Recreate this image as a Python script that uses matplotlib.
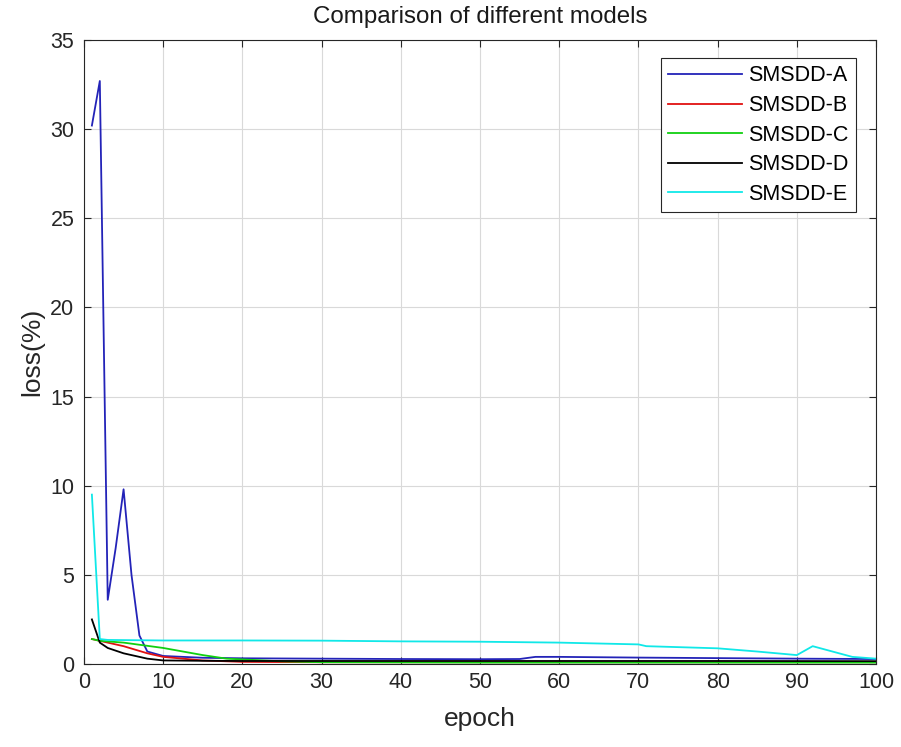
import matplotlib.pyplot as plt

plt.rcParams['font.family'] = ['Liberation Sans', 'DejaVu Sans']

# ---------- dati ---------- #
ep_a = [1, 2, 3, 4, 5, 6, 7, 8, 10, 15, 20, 30, 40, 50, 55, 57, 60, 70, 80, 90, 100]
loss_a = [30.2, 32.7, 3.6, 6.5, 9.8, 5.0, 1.6, 0.7, 0.45, 0.35, 0.32, 0.3, 0.28, 0.27, 0.28, 0.4, 0.4, 0.36, 0.33, 0.3, 0.28]

ep_b = [1, 2, 5, 8, 10, 15, 20, 30, 50, 70, 90, 100]
loss_b = [1.4, 1.3, 1.0, 0.6, 0.4, 0.2, 0.12, 0.1, 0.1, 0.1, 0.1, 0.1]

ep_c = [1, 2, 5, 10, 15, 18, 25, 30, 50, 70, 90, 100]
loss_c = [1.4, 1.3, 1.2, 0.9, 0.5, 0.3, 0.15, 0.1, 0.08, 0.08, 0.08, 0.08]

ep_d = [1, 2, 3, 5, 8, 10, 15, 20, 40, 60, 80, 100]
loss_d = [2.5, 1.2, 0.9, 0.6, 0.3, 0.2, 0.18, 0.17, 0.17, 0.17, 0.17, 0.16]

ep_e = [1, 2, 3, 10, 20, 30, 40, 50, 60, 70, 71, 80, 85, 90, 92, 97, 100]
loss_e = [9.5, 1.4, 1.35, 1.32, 1.32, 1.31, 1.27, 1.25, 1.2, 1.1, 1.0, 0.88, 0.7, 0.5, 1.0, 0.4, 0.3]

labels = ['SMSDD-A', 'SMSDD-B', 'SMSDD-C', 'SMSDD-D', 'SMSDD-E']
colors = ['#2323b8', '#e01010', '#10d010', '#000000', '#10e8e8']

# ---------- grafico ---------- #
fig = plt.figure(figsize=(9.01, 7.47), dpi=100)
ax = fig.add_axes([0.0932, 0.1111, 0.8791, 0.8354])

series = [(ep_a, loss_a), (ep_b, loss_b), (ep_c, loss_c), (ep_d, loss_d), (ep_e, loss_e)]
for (x, y), lab, col in zip(series, labels, colors):
    ax.plot(x, y, color=col, label=lab, linewidth=1.3)

ax.set_xlim(0, 100)
ax.set_ylim(0, 35)
ax.set_xticks(range(0, 101, 10))
ax.set_yticks(range(0, 36, 5))
ax.grid(True, color='#d9d9d9', linewidth=0.8)
ax.tick_params(direction='in', top=True, right=True, labelsize=15.5, length=5,
               labelcolor='#262626', color='#262626')
ax.tick_params(axis='y', pad=7)
ax.tick_params(axis='x', pad=6)
for s in ax.spines.values():
    s.set_color('#262626')

ax.set_title('Comparison of different models', fontsize=17.4, pad=12, color='#1a1a1a')
ax.set_xlabel('epoch', fontsize=19, labelpad=10, color='#262626')
ax.set_ylabel('loss(%)', fontsize=19, labelpad=4, color='#262626')

leg = ax.legend(loc='upper right', bbox_to_anchor=(0.9747, 0.9712), borderaxespad=0,
                fontsize=15.5, fancybox=False, framealpha=1, edgecolor='#262626',
                handlelength=3.4, handletextpad=0.3, borderpad=0.35,
                labelspacing=0.4)
leg.get_frame().set_linewidth(0.8)

plt.savefig('out.png')
plt.close()
